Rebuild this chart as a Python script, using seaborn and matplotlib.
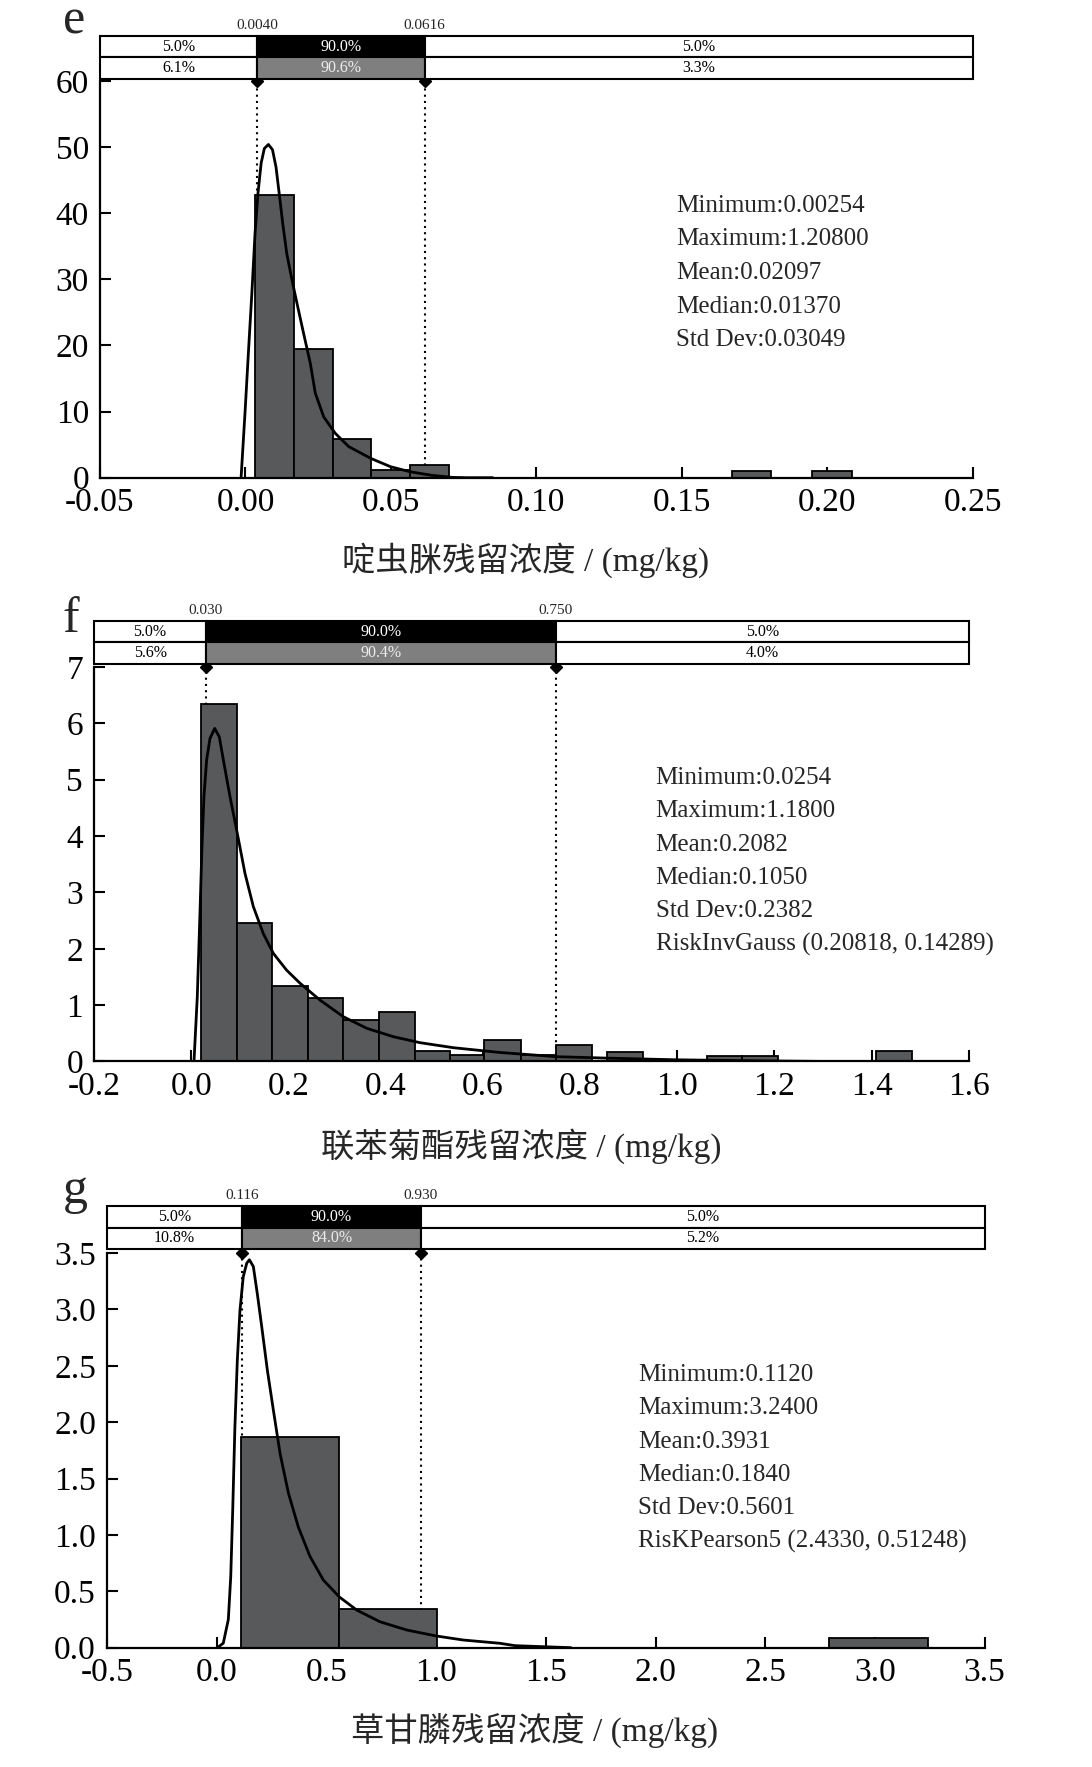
import numpy as np
import matplotlib
matplotlib.use("Agg")
import matplotlib.pyplot as plt
import seaborn as sns

# ---- panel e : 啶虫脒 ----
e_bin_left = [0.00334, 0.01678, 0.02997, 0.04316, 0.05649, 0.1672, 0.1949]
e_bin_right = [0.01678, 0.02997, 0.04316, 0.05649, 0.06993, 0.1807, 0.2085]
e_density = [42.8, 19.46, 5.90, 1.12, 1.92, 1.06, 1.06]
e_curve_x = [-0.0015, -0.0001, 0.0010, 0.0022, 0.0033, 0.0043, 0.0054, 0.0065, 0.0079,
             0.0093, 0.0105, 0.0116, 0.0128, 0.0142, 0.0160, 0.0177, 0.0200, 0.0223,
             0.0240, 0.0269, 0.0309, 0.0355, 0.0432, 0.0499, 0.0565, 0.0642, 0.0711, 0.0758, 0.085]
e_curve_y = [0.0, 10.2, 18.8, 27.9, 37.0, 43.0, 47.6, 49.8, 50.4,
             49.6, 47.0, 43.0, 38.5, 33.9, 29.9, 26.4, 21.8, 17.3,
             12.8, 9.2, 6.7, 4.7, 2.9, 1.66, 0.91, 0.35, 0.05, 0.0, 0.0]
e_bounds = [0.0040, 0.0616]
e_bound_labels = ["0.0040", "0.0616"]
e_pct_top = ["5.0%", "90.0%", "5.0%"]
e_pct_bottom = ["6.1%", "90.6%", "3.3%"]
e_stats = ["Minimum:0.00254", "Maximum:1.20800", "Mean:0.02097",
           "Median:0.01370", "Std Dev:0.03049"]
e_xticks = [-0.05, 0.00, 0.05, 0.10, 0.15, 0.20, 0.25]
e_xticklabels = ["-0.05", "0.00", "0.05", "0.10", "0.15", "0.20", "0.25"]
e_yticks = [0, 10, 20, 30, 40, 50, 60]
e_yticklabels = ["0", "10", "20", "30", "40", "50", "60"]
e_xlabel = "啶虫脒残留浓度 / (mg/kg)"

# ---- panel f : 联苯菊酯 ----
f_bin_left = [0.0191, 0.0932, 0.1665, 0.2400, 0.3127, 0.3856, 0.4597, 0.5323, 0.6029,
              0.6785, 0.7505, 0.8561, 1.0607, 1.1340, 1.4092]
f_bin_right = [0.0932, 0.1665, 0.2400, 0.3127, 0.3856, 0.4597, 0.5323, 0.6029, 0.6785,
               0.7505, 0.8252, 0.9302, 1.1340, 1.2081, 1.4833]
f_density = [6.34, 2.46, 1.34, 1.13, 0.736, 0.87, 0.186, 0.115, 0.38,
             0.11, 0.29, 0.175, 0.098, 0.098, 0.19]
f_curve_x = [0.0054, 0.0122, 0.0177, 0.0218, 0.0259, 0.0314, 0.0383, 0.048, 0.0575,
             0.0671, 0.0795, 0.0945, 0.1103, 0.1275, 0.148, 0.1686, 0.1961, 0.2235,
             0.2647, 0.3127, 0.3608, 0.4156, 0.4706, 0.5391, 0.635, 0.752, 0.855,
             0.999, 1.184, 1.32, 1.6]
f_curve_y = [0.0, 1.15, 2.63, 3.81, 4.70, 5.35, 5.73, 5.91, 5.76,
             5.29, 4.70, 4.05, 3.34, 2.75, 2.27, 1.92, 1.62, 1.39,
             1.09, 0.795, 0.59, 0.44, 0.334, 0.245, 0.16, 0.085, 0.06,
             0.03, 0.01, 0.0, 0.0]
f_bounds = [0.030, 0.750]
f_bound_labels = ["0.030", "0.750"]
f_pct_top = ["5.0%", "90.0%", "5.0%"]
f_pct_bottom = ["5.6%", "90.4%", "4.0%"]
f_stats = ["Minimum:0.0254", "Maximum:1.1800", "Mean:0.2082", "Median:0.1050",
           "Std Dev:0.2382", "RiskInvGauss (0.20818, 0.14289)"]
f_xticks = [-0.2, 0.0, 0.2, 0.4, 0.6, 0.8, 1.0, 1.2, 1.4, 1.6]
f_xticklabels = ["-0.2", "0.0", "0.2", "0.4", "0.6", "0.8", "1.0", "1.2", "1.4", "1.6"]
f_yticks = [0, 1, 2, 3, 4, 5, 6, 7]
f_yticklabels = ["0", "1", "2", "3", "4", "5", "6", "7"]
f_xlabel = "联苯菊酯残留浓度 / (mg/kg)"

# ---- panel g : 草甘膦 ----
g_bin_left = [0.1108, 0.5588, 2.790]
g_bin_right = [0.5588, 1.0055, 3.242]
g_density = [1.871, 0.343, 0.083]
g_curve_x = [0.003, 0.030, 0.053, 0.064, 0.073, 0.083, 0.094, 0.106, 0.121, 0.137,
             0.149, 0.167, 0.185, 0.205, 0.231, 0.258, 0.289, 0.327, 0.372, 0.425,
             0.486, 0.559, 0.638, 0.744, 0.866, 1.000, 1.124, 1.291, 1.36, 1.615]
g_curve_y = [0.0, 0.04, 0.25, 0.63, 1.22, 1.96, 2.55, 2.99, 3.29, 3.41,
             3.44, 3.38, 3.14, 2.85, 2.46, 2.11, 1.72, 1.37, 1.07, 0.81,
             0.60, 0.45, 0.334, 0.23, 0.157, 0.104, 0.068, 0.039, 0.018, 0.0]
g_bounds = [0.116, 0.930]
g_bound_labels = ["0.116", "0.930"]
g_pct_top = ["5.0%", "90.0%", "5.0%"]
g_pct_bottom = ["10.8%", "84.0%", "5.2%"]
g_stats = ["Minimum:0.1120", "Maximum:3.2400", "Mean:0.3931", "Median:0.1840",
           "Std Dev:0.5601", "RisKPearson5 (2.4330, 0.51248)"]
g_xticks = [-0.5, 0.0, 0.5, 1.0, 1.5, 2.0, 2.5, 3.0, 3.5]
g_xticklabels = ["-0.5", "0.0", "0.5", "1.0", "1.5", "2.0", "2.5", "3.0", "3.5"]
g_yticks = [0.0, 0.5, 1.0, 1.5, 2.0, 2.5, 3.0, 3.5]
g_yticklabels = ["0.0", "0.5", "1.0", "1.5", "2.0", "2.5", "3.0", "3.5"]
g_xlabel = "草甘膦残留浓度 / (mg/kg)"

sns.set_style("white")
plt.rcParams['font.family'] = ['Liberation Serif', 'Noto Sans CJK SC']
plt.rcParams['axes.unicode_minus'] = False

W, H = 1092, 1767
fig = plt.figure(figsize=(W / 100, H / 100), dpi=100)


def px_rect(left, top, right, bottom):
    return [left / W, 1 - bottom / H, (right - left) / W, (bottom - top) / H]


def draw_panel(letter, letter_xy, ax_px, box_px, xticks, xticklabels, yticks, yticklabels,
               bin_left, bin_right, density, cx, cy, bounds, bound_labels,
               pct_top, pct_bottom, stats, stats_xy, xlabel, xlabel_xy):
    xlim = (xticks[0], xticks[-1])
    ylim = (yticks[0], yticks[-1])
    ax = fig.add_axes(px_rect(*ax_px))
    ax.set_xlim(xlim)
    ax.set_ylim(ylim)

    # percentile lines and markers
    ax.vlines(bounds, ylim[0], ylim[1], colors='black', linestyles=(0, (1, 2)), lw=1.5, zorder=1)
    ax.plot(bounds, [ylim[1]] * 2, 'D', color='black', ms=6, clip_on=False, zorder=6)

    widths = np.array(bin_right) - np.array(bin_left)
    ax.bar(bin_left, density, width=widths, align='edge', color='#58595b',
           edgecolor='black', linewidth=1.3, zorder=2)
    sns.lineplot(x=cx, y=cy, sort=False, color='black', lw=2, ax=ax, zorder=3)

    sns.despine(ax=ax)
    for s in ['left', 'bottom']:
        ax.spines[s].set_linewidth(1.6)
        ax.spines[s].set_color('black')
    ax.set_xticks(xticks)
    ax.set_xticklabels(xticklabels)
    ax.set_yticks(yticks)
    ax.set_yticklabels(yticklabels)
    ax.tick_params(direction='in', length=8, width=1.5, labelsize=24,
                   top=False, right=False, bottom=True, left=True, colors='black')
    ax.tick_params(axis='x', pad=7)
    ax.tick_params(axis='y', pad=8)
    ax.set_xlabel("")
    ax.set_ylabel("")

    for i, line in enumerate(stats):
        ax.text(stats_xy[0], stats_xy[1] - i * 0.0845, line, transform=ax.transAxes,
                fontsize=18, va='center', ha='left')

    # percentile box above the plot
    bx = fig.add_axes(px_rect(*box_px))
    bx.set_xlim(xlim)
    bx.set_ylim(0, 2)
    bx.axis('off')
    lefts = [xlim[0], bounds[0], bounds[1]]
    seg_w = [bounds[0] - xlim[0], bounds[1] - bounds[0], xlim[1] - bounds[1]]
    top_bars = bx.barh([1.5] * 3, seg_w, left=lefts, height=1,
                       color=['white', 'black', 'white'], edgecolor='black', lw=1.5)
    bot_bars = bx.barh([0.5] * 3, seg_w, left=lefts, height=1,
                       color=['white', '#7f7f7f', 'white'], edgecolor='black', lw=1.5)
    for p in list(top_bars) + list(bot_bars):
        p.set_clip_on(False)
    top_col = ['black', 'white', 'black']
    bot_col = ['black', '#ececec', 'black']
    for j in range(3):
        xc = lefts[j] + seg_w[j] / 2
        bx.text(xc, 1.5, pct_top[j], ha='center', va='center', fontsize=11.5, color=top_col[j])
        bx.text(xc, 0.5, pct_bottom[j], ha='center', va='center', fontsize=11.5, color=bot_col[j])
    for b, lab in zip(bounds, bound_labels):
        bx.text(b, 2.2, lab, ha='center', va='bottom', fontsize=11)

    fig.text(letter_xy[0] / W, 1 - letter_xy[1] / H, letter, fontsize=36,
             ha='center', va='baseline')
    fig.text(xlabel_xy[0] / W, 1 - xlabel_xy[1] / H, xlabel, fontsize=24,
             ha='center', va='center')
    return ax


draw_panel("e", (74, 34), (100, 81, 972.7, 477.7), (100, 36, 972.7, 79),
           e_xticks, e_xticklabels, e_yticks, e_yticklabels,
           e_bin_left, e_bin_right, e_density, e_curve_x, e_curve_y,
           e_bounds, e_bound_labels, e_pct_top, e_pct_bottom,
           e_stats, (0.66, 0.685), e_xlabel, (526, 560))

draw_panel("f", (71, 632), (94.2, 667, 968.7, 1061.5), (94.2, 621, 968.7, 664),
           f_xticks, f_xticklabels, f_yticks, f_yticklabels,
           f_bin_left, f_bin_right, f_density, f_curve_x, f_curve_y,
           f_bounds, f_bound_labels, f_pct_top, f_pct_bottom,
           f_stats, (0.642, 0.719), f_xlabel, (521, 1146))

draw_panel("g", (75, 1203), (107, 1253, 984.6, 1647.7), (107, 1206, 984.6, 1249),
           g_xticks, g_xticklabels, g_yticks, g_yticklabels,
           g_bin_left, g_bin_right, g_density, g_curve_x, g_curve_y,
           g_bounds, g_bound_labels, g_pct_top, g_pct_bottom,
           g_stats, (0.605, 0.691), g_xlabel, (535, 1730))

fig.savefig("out.png", dpi=100)
